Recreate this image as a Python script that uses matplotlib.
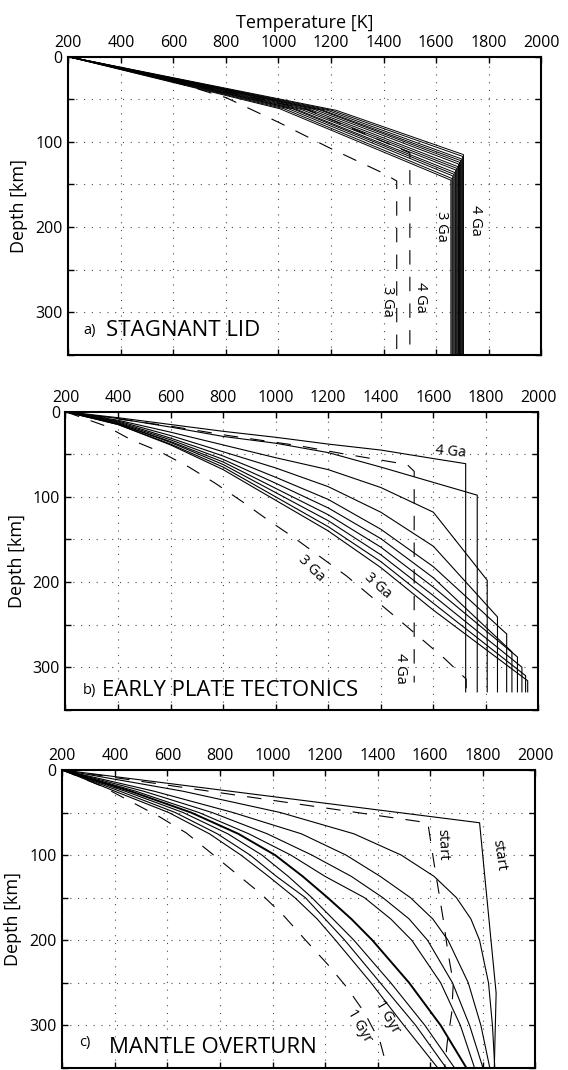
import numpy as np
import matplotlib
matplotlib.use('Agg')
import matplotlib.pyplot as plt

plt.rcParams['font.family'] = ['Open Sans', 'DejaVu Sans']

# ---- a) stagnant lid: band of solid profiles (kink 1, kink 2, then adiabat)
lid_t1 = [1004, 1020, 1037, 1053, 1070, 1087, 1103, 1120, 1137, 1153, 1170, 1187, 1203, 1220]
lid_d1 = [61, 61, 61, 61, 62, 62, 62, 62, 62, 62, 63, 63, 63, 63]
lid_t2 = [1656, 1660, 1663, 1667, 1671, 1674, 1678, 1682, 1685, 1689, 1693, 1696, 1700, 1704]
lid_d2 = [145, 143, 140, 138, 136, 133, 131, 129, 126, 124, 122, 120, 117, 115]
lid_dash3_t = [200, 400, 600, 800, 1000, 1200, 1400, 1450, 1450]
lid_dash3_d = [0, 13, 29, 48, 77, 108, 137, 146, 350]
lid_dash4_t = [200, 1110, 1500, 1500]
lid_dash4_d = [0, 62, 113, 350]

# ---- b) early plate tectonics: depth of each profile at these temperatures
plate_t = [200, 400, 600, 800, 1000, 1200, 1400, 1600]
plate_d = [
    [0, 7, 15, 23, 30, 38, 45, 55],
    [0, 8, 18, 29, 37, 48, 65, 83],
    [0, 10, 24, 39, 54, 68, 89, 118],
    [0, 11, 28, 47, 66, 88, 118, 158],
    [0, 12, 31, 52, 77, 103, 138, 182],
    [0, 13, 33, 56, 84, 113, 149, 195],
    [0, 14, 35, 59, 90, 121, 159, 206],
    [0, 14, 36, 62, 95, 128, 168, 216],
    [0, 15, 38, 65, 100, 135, 176, 225],
    [0, 15, 39, 68, 104, 140, 183, 233],
]
plate_kink_t = [1723, 1767, 1805, 1844, 1879, 1899, 1920, 1937, 1951, 1959]
plate_kink_d = [61, 98, 198, 241, 261, 282, 288, 300, 310, 316]
plate_bottom = 329
plate_dash4_t = [200, 600, 820, 1090, 1250, 1500, 1527, 1527]
plate_dash4_d = [0, 17, 28, 40, 49, 62, 70, 318]
plate_dash3_t = [200, 355, 450, 560, 670, 770, 870, 970, 1070, 1270, 1460, 1643, 1725, 1725]
plate_dash3_d = [0, 17, 33, 47, 65, 84, 105, 127, 148, 193, 242, 290, 314, 329]

# ---- c) mantle overturn: temperature of each profile at these depths
over_d = [0, 25, 50, 75, 100, 125, 150, 175, 200, 250, 300, 350]
over_t = [
    [200, 660, 1030, 1310, 1490, 1615, 1700, 1755, 1788, 1822, 1837, 1846],
    [200, 550, 850, 1110, 1280, 1410, 1525, 1610, 1668, 1745, 1793, 1827],
    [200, 510, 770, 980, 1150, 1300, 1420, 1520, 1590, 1685, 1750, 1801],
    [200, 480, 720, 910, 1070, 1200, 1350, 1450, 1530, 1640, 1715, 1769],
    [200, 460, 690, 870, 1010, 1115, 1210, 1300, 1380, 1520, 1640, 1738],
    [200, 440, 660, 830, 960, 1060, 1150, 1230, 1310, 1450, 1580, 1693],
    [200, 420, 630, 790, 915, 1015, 1125, 1200, 1275, 1410, 1545, 1661],
    [200, 400, 605, 760, 880, 985, 1085, 1170, 1240, 1375, 1500, 1629],
]
over_thick = 4
start_t = [200, 1788, 1851, 1844]
start_d = [0, 62, 262, 350]
start_dash_t = [200, 1591, 1615, 1632, 1650, 1668, 1688, 1682, 1665, 1655]
start_dash_d = [0, 62, 110, 142, 176, 215, 250, 285, 320, 350]
gyr_dash_t = [200, 350, 460, 570, 672, 768, 863, 958, 1045, 1126, 1209, 1282, 1350, 1410, 1432]
gyr_dash_d = [0, 19, 37, 55, 74, 98, 122, 146, 172, 200, 228, 255, 285, 320, 345]

DASH = (0, (13, 11))


def style_axes(ax):
    ax.set_xlim(200, 2000)
    ax.set_ylim(350, 0)
    ax.set_xticks(np.arange(200, 2001, 200))
    ax.set_yticks(np.arange(0, 351, 50))
    ax.set_yticklabels(['0', '', '100', '', '200', '', '300', ''])
    ax.xaxis.tick_top()
    ax.tick_params(axis='both', direction='in', top=True, bottom=True,
                   left=True, right=True, length=4, width=1,
                   labelsize=11.5, pad=4)
    ax.grid(True, linestyle=(0, (1, 6)), color='0.3', linewidth=0.8)
    ax.set_axisbelow(True)
    for s in ax.spines.values():
        s.set_linewidth(1.5)
    ax.set_ylabel('Depth [km]', fontsize=13, labelpad=5)


def label(ax, x, y, s, rot):
    ax.text(x, y, s, fontsize=10.5, rotation=rot, rotation_mode='anchor',
            ha='center', va='center')


fig = plt.figure(figsize=(5.68, 10.70), dpi=100)
ax_a = fig.add_axes([0.1202, 0.6685, 0.8327, 0.2785])
ax_b = fig.add_axes([0.1153, 0.3367, 0.8327, 0.2785])
ax_c = fig.add_axes([0.1097, 0.0019, 0.8327, 0.2785])

# a) stagnant lid
for t1, d1, t2, d2 in zip(lid_t1, lid_d1, lid_t2, lid_d2):
    ax_a.plot([200, t1, t2, t2], [0, d1, d2, 350], color='k', lw=0.7)
ax_a.plot(lid_dash3_t, lid_dash3_d, color='k', lw=0.8, linestyle=DASH)
ax_a.plot(lid_dash4_t, lid_dash4_d, color='k', lw=0.8, linestyle=DASH)
style_axes(ax_a)
ax_a.set_xlabel('Temperature [K]', fontsize=13, labelpad=5)
ax_a.xaxis.set_label_position('top')
label(ax_a, 1750, 192, '4 Ga', -90)
label(ax_a, 1621, 199, '3 Ga', -90)
label(ax_a, 1542, 283, '4 Ga', -90)
label(ax_a, 1413, 287, '3 Ga', -90)
ax_a.text(280, 322, 'a)', fontsize=10.5, ha='center', va='center')
ax_a.text(345, 322, 'STAGNANT LID', fontsize=16, ha='left', va='center')

# b) early plate tectonics
for d_row, tk, dk in zip(plate_d, plate_kink_t, plate_kink_d):
    ax_b.plot(plate_t + [tk, tk], d_row + [dk, plate_bottom], color='k', lw=0.8)
ax_b.plot(plate_dash4_t, plate_dash4_d, color='k', lw=0.8, linestyle=DASH)
ax_b.plot(plate_dash3_t, plate_dash3_d, color='k', lw=0.8, linestyle=DASH)
style_axes(ax_b)
label(ax_b, 1666, 47, '4 Ga', -5)
label(ax_b, 1387, 204, '3 Ga', -42)
label(ax_b, 1135, 184, '3 Ga', -45)
label(ax_b, 1476, 302, '4 Ga', -90)
ax_b.text(290, 327, 'b)', fontsize=10.5, ha='center', va='center')
ax_b.text(338, 327, 'EARLY PLATE TECTONICS', fontsize=16, ha='left', va='center')

# c) mantle overturn
for i, t_row in enumerate(over_t):
    ax_c.plot(t_row, over_d, color='k', lw=1.4 if i == over_thick else 0.8)
ax_c.plot(start_t, start_d, color='k', lw=0.8)
ax_c.plot(start_dash_t, start_dash_d, color='k', lw=0.8, linestyle=DASH)
ax_c.plot(gyr_dash_t, gyr_dash_d, color='k', lw=0.8, linestyle=DASH)
style_axes(ax_c)
label(ax_c, 1862, 100, 'start', -82)
label(ax_c, 1648, 88, 'start', -88)
label(ax_c, 1438, 290, '1 Gyr', -60)
label(ax_c, 1330, 301, '1 Gyr', -60)
ax_c.text(287, 320, 'c)', fontsize=10.5, ha='center', va='center')
ax_c.text(377, 326, 'MANTLE OVERTURN', fontsize=16, ha='left', va='center')

fig.savefig('out.png', dpi=100)
